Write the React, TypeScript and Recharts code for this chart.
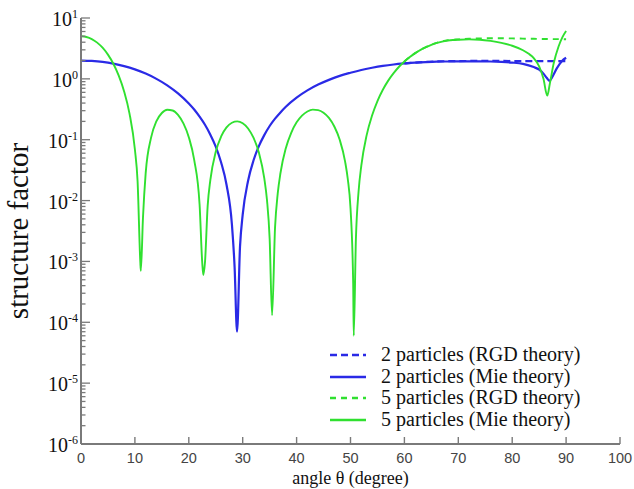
import React from "react";
import { Legend, Line, LineChart, XAxis, YAxis } from "recharts";

const SERIF = '"Liberation Serif", "Times New Roman", serif';
const SANS = '"Liberation Sans", Arial, sans-serif';
const BLUE = "#2a2ae6";
const GREEN = "#30e030";
const AXIS = "#7a7a7a";

// 2 particles, Mie theory
const blueMieAngle = [
  0, 2, 4, 6, 8, 10, 12, 14, 16, 18, 20, 21, 22, 23, 24, 25, 26, 27, 28, 28.5,
  28.95, 29.5, 30, 31, 32, 33, 34, 35, 36, 37, 38, 40, 42, 44, 46, 48, 50, 52,
  54, 56, 58, 60, 62, 64, 66, 68, 70, 72, 74, 76, 78, 80, 82, 84, 85, 85.8,
  86.4, 86.9, 87.5, 88.3, 89.2, 90,
];
const blueMieValue = [
  2.0, 1.97, 1.9, 1.78, 1.62, 1.43, 1.22, 1.0, 0.782, 0.576, 0.393, 0.313,
  0.239, 0.176, 0.121, 0.0772, 0.0422, 0.0182, 0.00404, 0.0008, 0.00007,
  0.00175, 0.00587, 0.0212, 0.0455, 0.0784, 0.119, 0.168, 0.222, 0.281, 0.348,
  0.491, 0.646, 0.805, 0.962, 1.12, 1.26, 1.4, 1.52, 1.63, 1.72, 1.79, 1.85,
  1.89, 1.92, 1.93, 1.94, 1.94, 1.94, 1.93, 1.9, 1.85, 1.76, 1.56, 1.42, 1.22,
  1.04, 0.93, 1.1, 1.5, 1.95, 2.22,
];

// 2 particles, RGD theory (only visible where it leaves the Mie curve)
const blueRgdAngle = [60, 62, 64, 66, 68, 70, 74, 78, 82, 86, 90];
const blueRgdValue = [1.79, 1.85, 1.9, 1.93, 1.95, 1.96, 1.97, 1.97, 1.96, 1.96, 1.95];

// 5 particles, Mie theory
const greenMieAngle = [
  0, 1, 2, 3, 4, 5, 6, 7, 8, 9, 10, 10.5, 11, 11.1, 11.5, 12, 13, 14, 15, 16,
  17, 18, 19, 20, 21, 22, 22.5, 22.7, 23, 23.5, 24, 25, 26, 27, 28, 29, 30, 31,
  32, 33, 34, 34.5, 35, 35.45, 36, 36.5, 37, 38, 39, 40, 41, 42, 43, 44, 45,
  46, 47, 48, 49, 49.5, 50, 50.5, 50.6, 51, 51.5, 52, 53, 54, 55, 56, 57, 58,
  59, 60, 61, 62, 63, 64, 65, 66, 67, 68, 69, 70, 72, 74, 76, 78, 80, 82, 83,
  84, 85, 85.8, 86.5, 87, 87.7, 88.6, 89.3, 90,
];
const greenMieValue = [
  5, 4.87, 4.51, 3.94, 3.25, 2.5, 1.77, 1.13, 0.622, 0.269, 0.0691, 0.0206,
  0.00099, 0.0007, 0.00527, 0.0282, 0.108, 0.202, 0.275, 0.311, 0.302, 0.255,
  0.185, 0.11, 0.0467, 0.0086, 0.00093, 0.0006, 0.00096, 0.0082, 0.0219,
  0.0633, 0.113, 0.159, 0.19, 0.2, 0.186, 0.153, 0.108, 0.0614, 0.0234, 0.0103,
  0.00236, 0.00013, 0.0036, 0.0131, 0.0281, 0.0727, 0.13, 0.193, 0.249, 0.291,
  0.312, 0.307, 0.278, 0.228, 0.165, 0.1, 0.0437, 0.0224, 0.00753, 0.00043,
  0.00006, 0.0023, 0.0142, 0.0372, 0.119, 0.25, 0.432, 0.662, 0.935, 1.24, 1.58,
  1.93, 2.29, 2.65, 3.0, 3.33, 3.63, 3.9, 4.1, 4.25, 4.35, 4.4, 4.45, 4.4, 4.2,
  3.9, 3.5, 2.95, 2.6, 2.2, 1.6, 1.0, 0.53, 0.85, 1.8, 3.4, 4.8, 6.1,
];

// 5 particles, RGD theory
const greenRgdAngle = [60, 62, 64, 66, 68, 70, 72, 74, 76, 78, 80, 82, 84, 86, 88, 90];
const greenRgdValue = [
  1.93, 2.65, 3.33, 3.9, 4.3, 4.45, 4.55, 4.62, 4.65, 4.65, 4.62, 4.58, 4.55,
  4.52, 4.5, 4.48,
];

const xTicks = [0, 10, 20, 30, 40, 50, 60, 70, 80, 90, 100];
const decades = [-6, -5, -4, -3, -2, -1, 0];
const yTicks = [...decades.flatMap((e) => [1, 2, 3, 4, 5, 6, 7, 8, 9].map((m) => m * 10 ** e)), 10];

const toRows = (xs: number[], vs: number[]) => xs.map((x, i) => ({ x, v: vs[i] }));

const series = [
  { name: "2 particles (RGD theory)", data: toRows(blueRgdAngle, blueRgdValue), color: BLUE, dash: "7 4", width: 2.2 },
  { name: "2 particles (Mie theory)", data: toRows(blueMieAngle, blueMieValue), color: BLUE, dash: undefined, width: 2.2 },
  { name: "5 particles (RGD theory)", data: toRows(greenRgdAngle, greenRgdValue), color: GREEN, dash: "6 5", width: 1.9 },
  { name: "5 particles (Mie theory)", data: toRows(greenMieAngle, greenMieValue), color: GREEN, dash: undefined, width: 1.9 },
];

const isDecade = (v: number) => Math.abs(Math.log10(v) - Math.round(Math.log10(v))) < 1e-6;

function LeftTick({ x, y, payload }: any) {
  const major = isDecade(payload.value);
  return (
    <g>
      <line x1={x} x2={x + (major ? 9 : 4.5)} y1={y} y2={y} stroke={AXIS} strokeWidth={1.3} />
      {major && (
        <text x={x - 3} y={y + 8} textAnchor="end" fontFamily={SERIF} fontSize={20} fill="#111">
          10
          <tspan dy={-8} fontSize={12}>
            {Math.round(Math.log10(payload.value))}
          </tspan>
        </text>
      )}
    </g>
  );
}

function RightTick({ x, y, payload }: any) {
  const major = isDecade(payload.value);
  return <line x1={x} x2={x - (major ? 9 : 4.5)} y1={y} y2={y} stroke={AXIS} strokeWidth={1.3} />;
}

function BottomTick({ x, y, payload }: any) {
  return (
    <g>
      <line x1={x} x2={x} y1={y} y2={y - 7} stroke={AXIS} strokeWidth={1.4} />
      <text x={x} y={y + 19} textAnchor="middle" fontFamily={SANS} fontSize={14.5} fill="#444">
        {payload.value}
      </text>
    </g>
  );
}

function TopTick({ x, y }: any) {
  return <line x1={x} x2={x} y1={y} y2={y + 7} stroke={AXIS} strokeWidth={1.4} />;
}

function YTitle({ viewBox }: any) {
  const cx = viewBox.x + 28;
  const cy = viewBox.y + viewBox.height / 2;
  return (
    <text x={cx} y={cy} transform={`rotate(-90 ${cx} ${cy})`} textAnchor="middle" fontFamily={SERIF} fontSize={29} fill="#111">
      structure factor
    </text>
  );
}

function XTitle({ viewBox }: any) {
  return (
    <text x={viewBox.x + viewBox.width / 2} y={viewBox.y + 40} textAnchor="middle" fontFamily={SERIF} fontSize={18} fill="#111">
      angle θ (degree)
    </text>
  );
}

function LegendBox() {
  return (
    <div style={{ fontFamily: SERIF, fontSize: 20, lineHeight: "21.7px", color: "#111" }}>
      {series.map((s) => (
        <div key={s.name} style={{ display: "flex", alignItems: "center", whiteSpace: "nowrap" }}>
          <svg width={40} height={10} style={{ marginRight: 13 }}>
            <line x1={2} x2={38} y1={5} y2={5} stroke={s.color} strokeWidth={s.width + 0.4} strokeDasharray={s.dash} />
          </svg>
          <span style={{ fontFamily: SERIF }}>{s.name}</span>
        </div>
      ))}
    </div>
  );
}

export default function App() {
  return (
    <div style={{ position: "absolute", left: 0, top: 0, width: 634, height: 489, background: "#fff" }}>
      <LineChart width={634} height={489} margin={{ top: 18, right: 14, bottom: 0, left: 0 }}>
        <XAxis
          dataKey="x"
          type="number"
          domain={[0, 100]}
          ticks={xTicks}
          interval={0}
          height={45}
          tickSize={0}
          tickMargin={0}
          tickLine={false}
          tick={<BottomTick />}
          axisLine={{ stroke: AXIS, strokeWidth: 2 }}
          label={XTitle}
          allowDataOverflow
        />
        <XAxis
          xAxisId="top"
          orientation="top"
          dataKey="x"
          type="number"
          domain={[0, 100]}
          ticks={xTicks}
          interval={0}
          height={0}
          tickSize={0}
          tickMargin={0}
          tickLine={false}
          tick={<TopTick />}
          axisLine={{ stroke: AXIS, strokeWidth: 2 }}
          allowDataOverflow
        />
        <YAxis
          scale="log"
          type="number"
          domain={[1e-6, 10]}
          ticks={yTicks}
          interval={0}
          width={81}
          tickSize={0}
          tickMargin={0}
          tickLine={false}
          tick={<LeftTick />}
          axisLine={{ stroke: AXIS, strokeWidth: 2 }}
          label={YTitle}
          allowDataOverflow
        />
        <YAxis
          yAxisId="right"
          orientation="right"
          scale="log"
          type="number"
          domain={[1e-6, 10]}
          ticks={yTicks}
          interval={0}
          width={0}
          tickSize={0}
          tickMargin={0}
          tickLine={false}
          tick={<RightTick />}
          axisLine={{ stroke: AXIS, strokeWidth: 2 }}
          allowDataOverflow
        />
        <Legend
          layout="vertical"
          align="center"
          verticalAlign="middle"
          content={<LegendBox />}
          wrapperStyle={{ left: 328, top: 344, width: 290, height: 90 }}
        />
        {series.map((s) => (
          <Line
            key={s.name}
            data={s.data}
            dataKey="v"
            name={s.name}
            type="monotone"
            stroke={s.color}
            strokeWidth={s.width}
            strokeDasharray={s.dash}
            dot={false}
            activeDot={false}
            isAnimationActive={false}
          />
        ))}
      </LineChart>
    </div>
  );
}
